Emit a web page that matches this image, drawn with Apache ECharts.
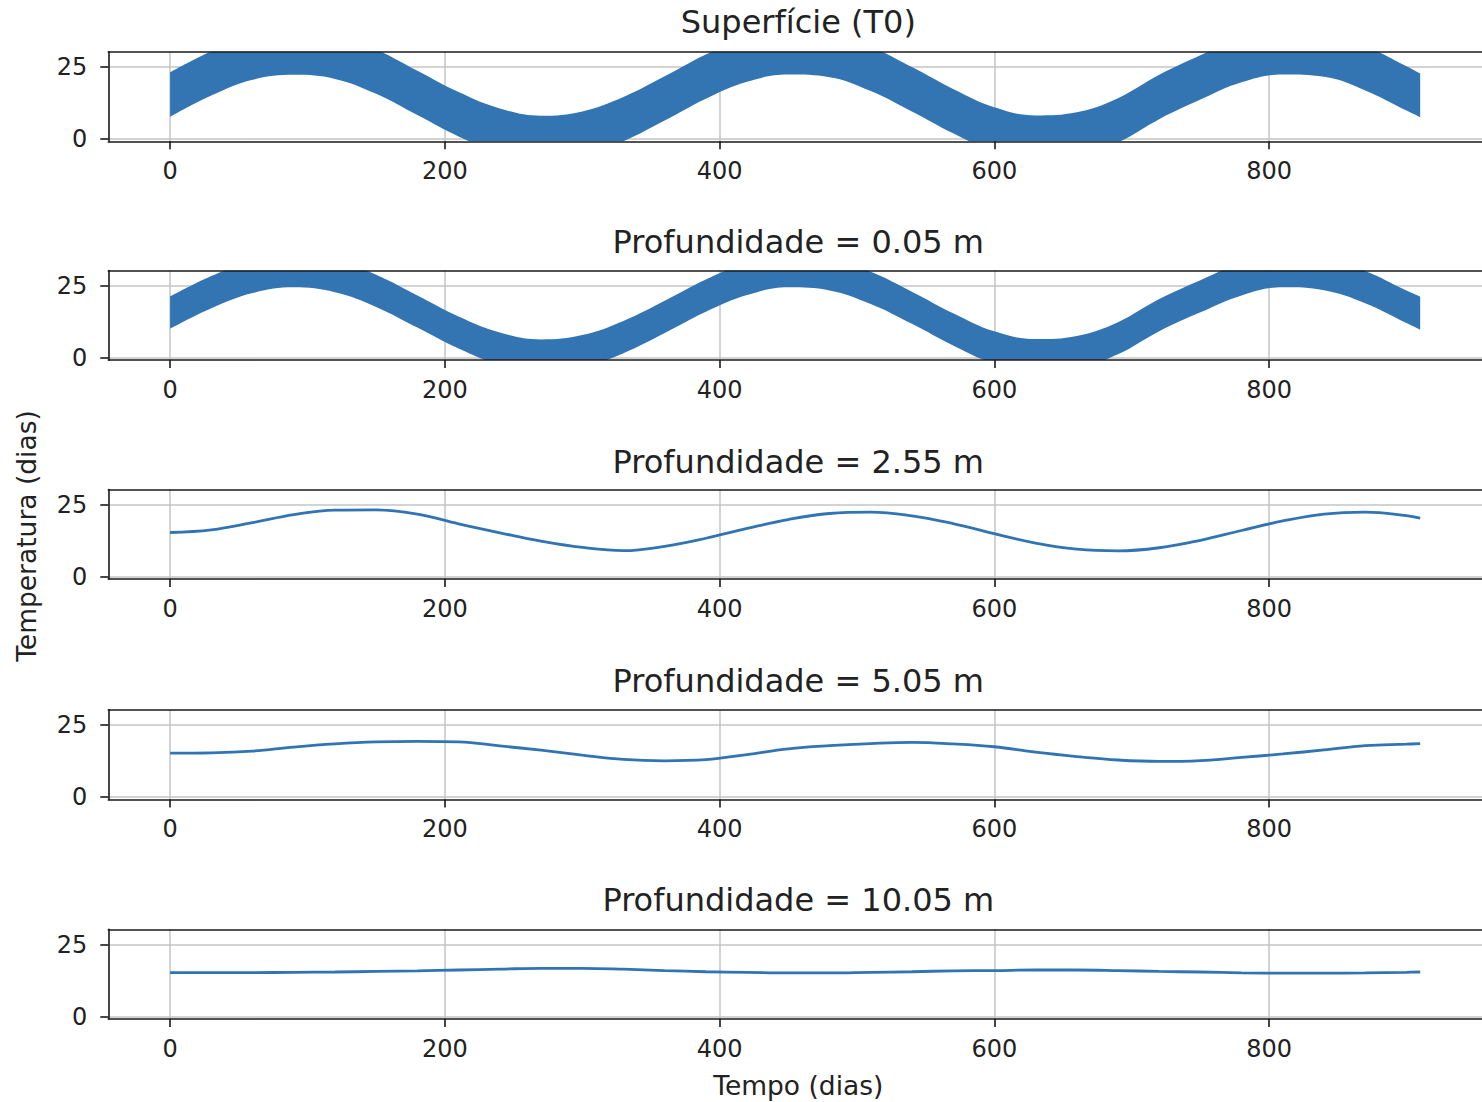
<!DOCTYPE html>
<html>
<head>
<meta charset="utf-8">
<script src="https://cdn.jsdelivr.net/npm/echarts@6/dist/echarts.min.js"></script>
<style>
html,body{margin:0;padding:0;background:#ffffff;}
#chart{width:1482px;height:1102px;}
</style>
</head>
<body>
<div id="chart"></div>
<script>
// ---- data ----
const days = [0,30,60,90,120,150,180,210,240,270,300,330,360,390,420,450,480,510,540,570,600,630,660,690,720,750,780,810,840,870,900,910];
const xTicks = [0,200,400,600,800];
const yTicks = [0,25];
const titles = ['Superfície (T0)','Profundidade = 0.05 m','Profundidade = 2.55 m','Profundidade = 5.05 m','Profundidade = 10.05 m'];
const xLabel = 'Tempo (dias)';
const yLabel = 'Temperatura (dias)';

// surface: upper / lower envelope of the daily oscillation band
const t0Upper = [23.2,30.5,36.0,38.1,36.3,31.1,23.7,16.3,10.6,8.1,9.6,14.6,21.8,29.4,35.3,38.0,36.9,32.1,25.0,17.4,11.0,8.2,9.3,14.2,22.3,29.1,35.1,38.0,37.0,32.3,25.3,22.8];
const t0Lower = [7.7,15.1,20.6,22.3,20.9,15.7,8.3,0.9,-4.8,-7.3,-5.8,-0.8,6.4,14.0,19.9,22.4,21.5,16.7,9.6,2.0,-4.4,-7.2,-6.1,-1.2,6.9,13.7,19.7,22.4,21.6,16.9,9.9,7.6];
// 0.05 m: upper / lower envelope
const d005Upper = [21.3,28.4,33.7,35.8,34.0,28.9,21.7,14.4,8.8,6.4,7.9,12.8,19.8,27.2,33.0,35.7,34.6,29.9,23.0,15.5,9.2,6.5,7.6,12.4,20.4,27.0,32.9,35.7,34.7,30.2,23.4,21.3];
const d005Lower = [10.1,17.2,22.5,24.5,22.8,17.7,10.5,3.2,-2.4,-4.8,-3.3,1.6,8.6,16.0,21.8,24.5,23.4,18.7,11.8,4.3,-2.0,-4.7,-3.6,1.2,9.2,15.8,21.7,24.5,23.5,19.0,12.1,9.8];
// deeper layers
const d255 = [15.4,16.3,18.8,21.6,23.2,23.3,21.8,18.4,15.3,12.4,10.2,9.1,10.6,13.4,16.8,19.9,22.0,22.5,21.2,18.5,15.0,11.7,9.6,9.0,10.1,12.7,16.1,19.4,21.8,22.5,21.3,20.4];
const d505 = [15.3,15.4,16.0,17.4,18.5,19.2,19.4,19.2,17.8,16.3,14.6,13.1,12.6,13.0,14.8,16.8,17.9,18.6,19.0,18.5,17.5,15.6,14.1,12.9,12.4,12.7,13.8,15.0,16.4,17.9,18.4,18.6];
const d1005 = [15.3,15.3,15.3,15.4,15.5,15.7,15.9,16.2,16.5,16.8,16.8,16.5,16.0,15.6,15.4,15.2,15.2,15.4,15.6,15.9,16.0,16.2,16.2,16.0,15.7,15.5,15.2,15.1,15.1,15.2,15.4,15.5];

// ---- layout / style ----
const LEFT = 108.3, WIDTH = 1381, H = 89.6;
const TOPS = [51.7, 270.5, 489.5, 709.8, 929.3];
const TITLE_Y = [22, 241.5, 461.5, 680.5, 900];
const X_MIN = -45, X_MAX = 955, Y_MIN = -0.8, Y_MAX = 30.35;
const BLUE = '#3375b2', LINEC = '#3174b3', INK = '#222222', GRIDC = '#c4c4c4', SPINE = '#1a1a1a';
const FONT = '"DejaVu Sans", "Liberation Sans", sans-serif';

// value first, day second (so stacking works on the value dimension)
const pairsYX = vals => days.map((d, i) => [vals[i], d]);
const diffYX = (up, lo) => days.map((d, i) => [+(up[i] - lo[i]).toFixed(2), d]);

const grids = [], xAxes = [], yAxes = [], series = [], graphics = [];

TOPS.forEach((top, i) => {
  grids.push({left: LEFT, top: top, width: WIDTH, height: H, containLabel: false});
  xAxes.push({type: 'value', gridIndex: i, position: 'bottom', min: X_MIN, max: X_MAX, z: 10,
    axisLine: {show: true, onZero: false, lineStyle: {color: SPINE, width: 1.6}},
    axisTick: {show: true, length: 8, customValues: xTicks, lineStyle: {color: SPINE, width: 1.6}},
    axisLabel: {show: true, customValues: xTicks, margin: 18, color: INK, fontSize: 24, fontFamily: FONT},
    splitLine: {show: false}});
  xAxes.push({type: 'value', gridIndex: i, position: 'top', min: X_MIN, max: X_MAX, z: 10,
    axisLine: {show: true, onZero: false, lineStyle: {color: SPINE, width: 1.6}},
    axisTick: {show: false}, axisLabel: {show: false}, splitLine: {show: false}});
  xAxes.push({type: 'value', gridIndex: i, position: 'top', min: X_MIN, max: X_MAX, z: 0,
    axisLine: {show: false}, axisTick: {show: false, customValues: xTicks}, axisLabel: {show: false, customValues: xTicks},
    splitLine: {show: true, lineStyle: {color: GRIDC, width: 1.5}}});
  yAxes.push({type: 'value', gridIndex: i, position: 'left', min: Y_MIN, max: Y_MAX, z: 10,
    axisLine: {show: true, onZero: false, lineStyle: {color: SPINE, width: 1.6}},
    axisTick: {show: true, length: 8, customValues: yTicks, lineStyle: {color: SPINE, width: 1.6}},
    axisLabel: {show: true, customValues: yTicks, margin: 21, color: INK, fontSize: 24, fontFamily: FONT},
    splitLine: {show: false}});
  yAxes.push({type: 'value', gridIndex: i, position: 'left', min: Y_MIN, max: Y_MAX, z: 0,
    axisLine: {show: false}, axisTick: {show: false, customValues: yTicks}, axisLabel: {show: false, customValues: yTicks},
    splitLine: {show: true, lineStyle: {color: GRIDC, width: 1.5}}});

  graphics.push({type: 'text', x: LEFT + WIDTH / 2 - 0.5, y: TITLE_Y[i], z: 20,
    style: {text: titles[i], fill: INK, font: '32px ' + FONT, fontSize: 32, fontFamily: FONT,
      textAlign: 'center', textVerticalAlign: 'middle', align: 'center', verticalAlign: 'middle'}});
});

function band(gi, up, lo, name) {
  series.push({type: 'line', name: name + '_lo', xAxisIndex: 3 * gi, yAxisIndex: 2 * gi,
    data: pairsYX(lo), encode: {x: 1, y: 0}, stack: name, stackStrategy: 'all', symbol: 'none', smooth: 0.4,
    lineStyle: {width: 0, opacity: 0}, silent: true, z: 2});
  series.push({type: 'line', name: name + '_band', xAxisIndex: 3 * gi, yAxisIndex: 2 * gi,
    data: diffYX(up, lo), encode: {x: 1, y: 0}, stack: name, stackStrategy: 'all', symbol: 'none', smooth: 0.4,
    lineStyle: {width: 0, opacity: 0}, areaStyle: {color: BLUE, opacity: 1}, silent: true, z: 2});
}
function curve(gi, vals, name) {
  series.push({type: 'line', name: name, xAxisIndex: 3 * gi, yAxisIndex: 2 * gi,
    data: pairsYX(vals), encode: {x: 1, y: 0}, symbol: 'none', smooth: 0.4,
    lineStyle: {width: 2.8, color: LINEC}, silent: true, z: 2});
}
band(0, t0Upper, t0Lower, 'T0');
band(1, d005Upper, d005Lower, 'p005');
curve(2, d255, 'p255');
curve(3, d505, 'p505');
curve(4, d1005, 'p1005');

graphics.push({type: 'text', x: LEFT + WIDTH / 2 - 0.5, y: 1085, z: 20,
  style: {text: xLabel, fill: INK, font: '26.5px ' + FONT, fontSize: 26.5, fontFamily: FONT,
    textAlign: 'center', textVerticalAlign: 'middle', align: 'center', verticalAlign: 'middle'}});
graphics.push({type: 'text', x: 26, y: 536, rotation: Math.PI / 2, z: 20,
  style: {text: yLabel, fill: INK, font: '26.5px ' + FONT, fontSize: 26.5, fontFamily: FONT,
    textAlign: 'center', textVerticalAlign: 'middle', align: 'center', verticalAlign: 'middle'}});

const chart = echarts.init(document.getElementById('chart'), null, {renderer: 'svg', width: 1482, height: 1102});
chart.setOption({
  animation: false,
  backgroundColor: '#ffffff',
  grid: grids,
  xAxis: xAxes,
  yAxis: yAxes,
  series: series,
  graphic: {elements: graphics}
});
</script>
</body>
</html>
